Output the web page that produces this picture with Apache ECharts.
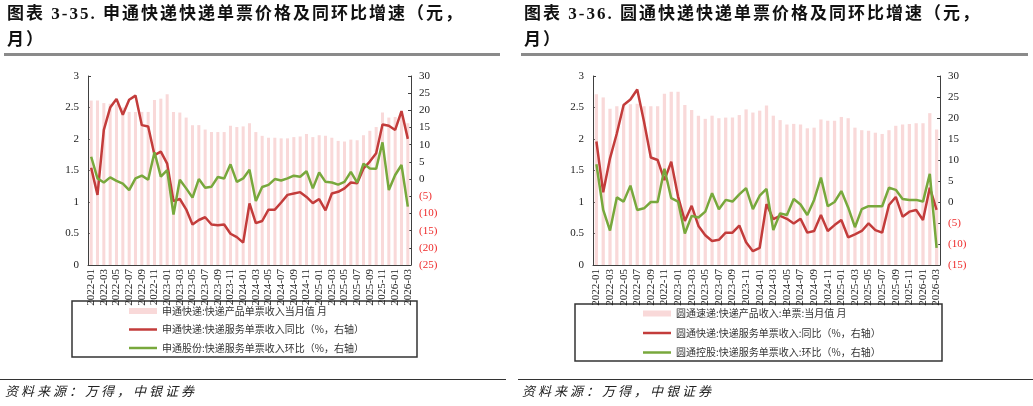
<!DOCTYPE html>
<html>
<head>
<meta charset="utf-8">
<script src="https://cdn.jsdelivr.net/npm/echarts@6/dist/echarts.min.js"></script>
<style>
  body { margin: 0; background: #fff; }
  #wrap { position: relative; width: 1033px; height: 406px; overflow: hidden; }
  #chart { position: absolute; left: 0; top: 0; width: 1033px; height: 406px; }
  .title {
    position: absolute;
    font-family: "Liberation Serif", "Noto Sans CJK SC", serif;
    font-weight: bold;
    font-size: 17px;
    line-height: 26px;
    letter-spacing: 2px;
    color: #111;
    white-space: nowrap;
  }
  .rule { position: absolute; top: 53px; height: 3px; background: #8a8a8a; }
  .src-rule { position: absolute; top: 379px; height: 1px; background: #333; }
  .src {
    position: absolute;
    top: 382px;
    font-family: "Noto Sans CJK SC", sans-serif;
    font-style: italic;
    font-size: 13px;
    line-height: 18px;
    letter-spacing: 3px;
    color: #222;
  }
</style>
</head>
<body>
<div id="wrap">
  <div id="chart"></div>
  <div class="title" style="left:7px;top:1px;">图表 3-35. 申通快递快递单票价格及同环比增速（元，<br>月）</div>
  <div class="title" style="left:524px;top:1px;">图表 3-36. 圆通快递快递单票价格及同环比增速（元，<br>月）</div>
  <div class="rule" style="left:4px;width:496px;"></div>
  <div class="rule" style="left:521px;width:507px;"></div>
  <div class="src-rule" style="left:0;width:506px;"></div>
  <div class="src-rule" style="left:518px;width:515px;"></div>
  <div class="src" style="left:5px;">资料来源：万得，中银证券</div>
  <div class="src" style="left:522px;">资料来源：万得，中银证券</div>
</div>
<script>
// 月份（2022-01 ~ 2026-03）
const months = [
  '2022-01','2022-02','2022-03','2022-04','2022-05','2022-06','2022-07','2022-08','2022-09','2022-10','2022-11','2022-12',
  '2023-01','2023-02','2023-03','2023-04','2023-05','2023-06','2023-07','2023-08','2023-09','2023-10','2023-11','2023-12',
  '2024-01','2024-02','2024-03','2024-04','2024-05','2024-06','2024-07','2024-08','2024-09','2024-10','2024-11','2024-12',
  '2025-01','2025-02','2025-03','2025-04','2025-05','2025-06','2025-07','2025-08','2025-09','2025-10','2025-11','2025-12',
  '2026-01','2026-02','2026-03'
]

// 申通
const stoPrice = [2.61,2.61,2.57,2.56,2.55,2.50,2.43,2.43,2.43,2.43,2.62,2.64,
  2.71,2.43,2.42,2.34,2.22,2.22,2.15,2.11,2.11,2.11,2.21,2.19,
  2.20,2.25,2.11,2.05,2.02,2.02,2.01,2.01,2.03,2.04,2.08,2.03,
  2.06,2.05,2.02,1.97,1.96,1.99,1.98,2.06,2.13,2.19,2.42,2.34,
  2.35,2.42,2.25]
const stoYoY = [3.3,-4.6,14.3,20.8,23.3,18.7,23.1,24.3,15.7,15.3,7.0,8.0,
  4.5,-6.4,-5.8,-8.8,-13.2,-11.9,-11.1,-13.2,-13.4,-13.2,-15.9,-16.9,
  -18.5,-7.1,-12.8,-12.2,-8.9,-8.9,-6.8,-4.6,-4.2,-3.8,-5.2,-7.0,
  -5.8,-9.1,-4.2,-3.7,-2.7,-1.0,-1.2,3.1,5.1,7.5,15.9,15.5,
  14.3,19.8,11.7]
const stoMoM = [6.5,0.2,-1.0,0.5,-0.5,-1.3,-3.2,0.2,1.0,-0.2,7.8,0.7,
  2.6,-10.3,-0.2,-2.7,-5.4,0.0,-2.5,-2.2,0.6,0.2,4.3,-0.8,
  0.2,2.7,-6.4,-2.3,-1.7,0.0,-0.4,0.2,1.0,0.7,2.3,-2.7,
  1.9,-0.8,-1.0,-1.6,-0.8,2.1,-1.0,4.5,3.1,3.0,10.7,-3.2,
  1.2,4.1,-8.0]

// 圆通
const ytoPrice = [2.71,2.66,2.48,2.52,2.53,2.55,2.56,2.52,2.52,2.52,2.72,2.75,
  2.75,2.54,2.46,2.37,2.32,2.37,2.33,2.34,2.34,2.38,2.47,2.42,
  2.45,2.53,2.37,2.30,2.23,2.24,2.23,2.17,2.18,2.31,2.29,2.29,
  2.35,2.33,2.18,2.14,2.13,2.10,2.08,2.14,2.21,2.23,2.24,2.25,
  2.25,2.41,2.15]
const ytoYoY = [14.4,2.3,10.4,16.3,23.1,24.4,26.8,19.1,10.6,10.0,5.2,9.6,
  1.3,-4.5,-0.9,-5.7,-7.9,-9.3,-9.0,-7.3,-7.3,-5.6,-9.6,-11.7,
  -10.9,-0.5,-4.1,-3.3,-4.0,-5.1,-4.0,-7.3,-6.9,-3.1,-6.9,-5.5,
  -4.3,-8.4,-7.7,-6.9,-5.1,-6.7,-7.3,-0.7,1.2,-3.5,-2.3,-1.9,
  -4.3,3.4,-1.9]
const ytoMoM = [9.0,-1.9,-6.8,1.1,0.1,3.9,-1.9,-1.5,0.0,0.0,7.9,0.9,
  0.1,-7.5,-3.3,-3.7,-2.3,2.1,-1.7,0.5,0.1,1.8,3.3,-1.7,
  1.5,3.1,-6.7,-2.7,-3.1,0.7,-0.6,-3.1,0.5,5.8,-1.0,0.0,
  2.6,-1.3,-6.0,-1.7,-1.0,-1.0,-1.0,3.4,2.9,0.7,0.5,0.5,
  0.1,6.7,-10.9]

const names = {
  stoBar: '申通快递:快递产品单票收入当月值 月',
  stoYoY: '申通快递:快递服务单票收入同比（%，右轴）',
  stoMoM: '申通股份:快递服务单票收入环比（%，右轴）',
  ytoBar: '圆通速递:快递产品收入:单票:当月值 月',
  ytoYoY: '圆通快递:快递服务单票收入:同比（%，右轴）',
  ytoMoM: '圆通控股:快递服务单票收入:环比（%，右轴）'
}

const BAR = '#f9d9d9'
const RED = '#c33c3b'
const GREEN = '#78a83c'
const AXIS = '#404040'
const numFont = 'Liberation Serif'
const lineIcon = 'path://M0,0H28V2.5H0Z'

const chart = echarts.init(document.getElementById('chart'))

const xAxisCfg = gridIndex => ({
  type: 'category',
  gridIndex,
  data: months,
  axisLine: { lineStyle: { color: AXIS } },
  axisTick: { inside: true, length: 3, interval: 1, lineStyle: { color: AXIS } },
  axisLabel: {
    interval: 1, rotate: 90, margin: 4,
    fontFamily: numFont, fontSize: 11, color: '#222'
  }
})

const leftAxis = gridIndex => ({
  type: 'value', gridIndex, position: 'left',
  min: 0, max: 3, interval: 0.5,
  axisLine: { show: true, lineStyle: { color: AXIS } },
  axisTick: { show: true, inside: true, length: 3, lineStyle: { color: AXIS } },
  axisLabel: { margin: 9, fontFamily: numFont, fontSize: 11, color: '#222' },
  splitLine: { show: false }
})

const rightAxis = (gridIndex, min) => ({
  type: 'value', gridIndex, position: 'right',
  min, max: 30, interval: 5,
  axisLine: { show: true, lineStyle: { color: AXIS } },
  axisTick: { show: true, inside: true, length: 3, lineStyle: { color: AXIS } },
  axisLabel: {
    margin: 8, fontFamily: numFont, fontSize: 11,
    formatter: v => (v < 0 ? '(' + (-v) + ')' : String(v)),
    color: v => (Number(v) < 0 ? '#ee2a2a' : '#222')
  },
  splitLine: { show: false }
})

const lineSeries = (name, data, color, xi, yi) => ({
  name, type: 'line', data, xAxisIndex: xi, yAxisIndex: yi,
  symbol: 'none', lineStyle: { color, width: 2.5 }, itemStyle: { color }
})

const legendCfg = (left, top, gap, list) => ({
  orient: 'vertical', left, top, padding: 0,
  itemGap: gap, itemWidth: 28, itemHeight: 6,
  textStyle: { fontFamily: 'Noto Sans CJK SC', fontSize: 10, color: '#333' },
  data: [
    { name: list[0], icon: 'rect' },
    { name: list[1], icon: lineIcon },
    { name: list[2], icon: lineIcon }
  ]
})

const option = {
  animation: false,
  grid: [
    { left: 88, top: 76, width: 323, height: 189 },
    { left: 593, top: 76, width: 347, height: 189 }
  ],
  xAxis: [xAxisCfg(0), xAxisCfg(1)],
  yAxis: [leftAxis(0), rightAxis(0, -25), leftAxis(1), rightAxis(1, -15)],
  legend: [
    legendCfg(129, 306, 8.5, [names.stoBar, names.stoYoY, names.stoMoM]),
    legendCfg(643, 308.5, 9.5, [names.ytoBar, names.ytoYoY, names.ytoMoM])
  ],
  graphic: [
    { type: 'rect', shape: { x: 72, y: 301, width: 345, height: 56 },
      style: { fill: 'none', stroke: '#333', lineWidth: 1.5 }, silent: true },
    { type: 'rect', shape: { x: 575, y: 304, width: 367, height: 57 },
      style: { fill: 'none', stroke: '#333', lineWidth: 1.5 }, silent: true }
  ],
  series: [
    { name: names.stoBar, type: 'bar', data: stoPrice, xAxisIndex: 0, yAxisIndex: 0,
      barCategoryGap: '52%', itemStyle: { color: BAR } },
    lineSeries(names.stoYoY, stoYoY, RED, 0, 1),
    lineSeries(names.stoMoM, stoMoM, GREEN, 0, 1),
    { name: names.ytoBar, type: 'bar', data: ytoPrice, xAxisIndex: 1, yAxisIndex: 2,
      barCategoryGap: '52%', itemStyle: { color: BAR } },
    lineSeries(names.ytoYoY, ytoYoY, RED, 1, 3),
    lineSeries(names.ytoMoM, ytoMoM, GREEN, 1, 3)
  ]
}

chart.setOption(option)
</script>
</body>
</html>
